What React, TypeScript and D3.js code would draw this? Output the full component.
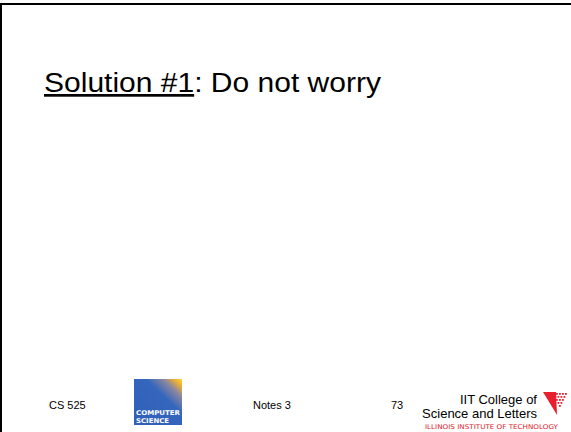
import React from "react";
import * as d3 from "d3";

const W = 571;
const H = 432;
const titleUnderlined = "Solution #1";
const titleRest = ": Do not worry";
const footerLabels = ["CS 525", "Notes 3", "73"];
const footerX = [49, 253, 391];
const logoLines = ["COMPUTER", "SCIENCE"];
const logoLen = [44, 33];
const iitLines = ["IIT College of", "Science and Letters"];
const iitSub = "ILLINOIS INSTITUTE OF TECHNOLOGY";

export default function App() {
  const x = d3.scaleLinear().domain([0, W]).range([0, W]);
  const dots: [number, number][] = [];
  for (let r = 0; r < 5; r++) {
    for (let c = 0; c < 5 - r; c++) {
      dots.push([553 + c * 3 + r * 1.5, 393 + r * 3]);
    }
  }
  return (
    <svg width={W} height={H} style={{ position: "absolute", left: 0, top: 0, background: "#fff" }}>
      <defs>
        <linearGradient id="cs" x1="0" y1="1" x2="1" y2="0">
          <stop offset="0" stopColor="#2f5fb8" />
          <stop offset="0.62" stopColor="#3566bd" />
          <stop offset="0.8" stopColor="#8a86a0" />
          <stop offset="0.92" stopColor="#f0b030" />
          <stop offset="1" stopColor="#ffd840" />
        </linearGradient>
      </defs>
      <rect x={0} y={0} width={W} height={H} fill="#fff" />
      <rect x={0} y={3} width={W} height={2} fill="#000" />
      <rect x={0} y={3} width={2} height={H - 3} fill="#000" />

      <text x={x(44)} y={92} fontFamily="'Liberation Sans', Arial, sans-serif" fontSize={27} fill="#000" textLength={337} lengthAdjust="spacingAndGlyphs">
        <tspan textDecoration="underline">{titleUnderlined}</tspan>
        <tspan>{titleRest}</tspan>
      </text>

      {footerLabels.map((t, i) => (
        <text key={t} x={footerX[i]} y={409} fontFamily="'Liberation Sans', sans-serif" fontSize={11} fill="#000">
          {t}
        </text>
      ))}

      <rect x={134} y={379} width={48} height={46} fill="url(#cs)" />
      {logoLines.map((t, i) => (
        <text key={t} x={136} y={415 + i * 7.5} fontFamily="'DejaVu Sans Condensed', sans-serif" fontWeight="bold" fontSize={6.5} fill="#fff" textLength={logoLen[i]} lengthAdjust="spacingAndGlyphs">
          {t}
        </text>
      ))}

      {iitLines.map((t, i) => (
        <text key={t} x={537} y={404 + i * 14} textAnchor="end" fontFamily="'Liberation Sans', sans-serif" fontSize={13} fill="#000">
          {t}
        </text>
      ))}
      <text x={425} y={429} fontFamily="'DejaVu Sans', sans-serif" fontSize={6.5} fill="#e0202a" textLength={133} lengthAdjust="spacingAndGlyphs">
        {iitSub}
      </text>
      <path d="M543,392 L556,392 L557,415 Z" fill="#e8202e" />
      {dots.map(([dx, dy], i) => (
        <rect key={i} x={dx} y={dy} width={1.8} height={1.8} fill="#e8202e" />
      ))}
    </svg>
  );
}
